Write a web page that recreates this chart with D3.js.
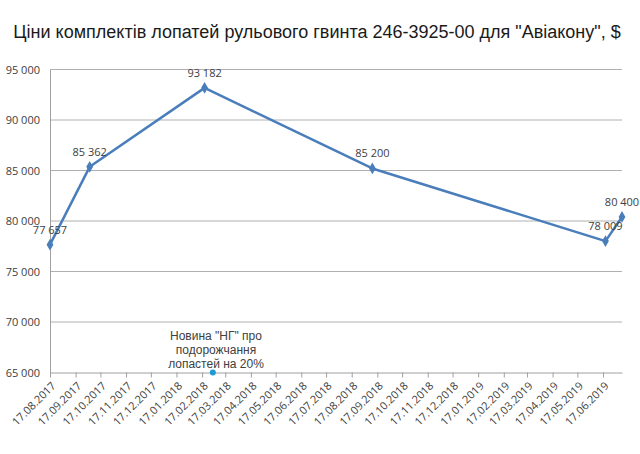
<!DOCTYPE html>
<html><head><meta charset="utf-8">
<script src="https://cdn.jsdelivr.net/npm/d3@7"></script>
<style>body{margin:0;background:#fff}svg{display:block}</style>
</head><body>
<svg id="c" width="640" height="454"></svg>
<script>
const titleText = 'Ціни комплектів лопатей рульового гвинта 246-3925-00 для "Авіакону", $';
const dates = ["2017-08-17","2017-10-04","2018-02-20","2018-09-11","2019-06-20","2019-07-10"];
const prices = [77657, 85362, 93182, 85200, 78009, 80400];
const yTicks = [65000, 70000, 75000, 80000, 85000, 90000, 95000];
const xTickLabels = ["17.08.2017","17.09.2017","17.10.2017","17.11.2017","17.12.2017","17.01.2018","17.02.2018","17.03.2018","17.04.2018","17.05.2018","17.06.2018","17.07.2018","17.08.2018","17.09.2018","17.10.2018","17.11.2018","17.12.2018","17.01.2019","17.02.2019","17.03.2019","17.04.2019","17.05.2019","17.06.2019"];
const noteDate = "2018-03-02";
const noteValue = 65000;
const noteLines = ['Новина "НГ" про', 'подорожчання', 'лопастей на 20%'];

const parseISO = d3.timeParse("%Y-%m-%d");
const parseDMY = d3.timeParse("%d.%m.%Y");
const loc = d3.formatLocale({decimal: ",", thousands: " ", grouping: [3], currency: ["", "$"]});
const fmt = loc.format(",d");

const svg = d3.select("#c");
const L = 50, R = 622, T = 69.5, B = 372.5;
const x = d3.scaleTime().domain([parseISO("2017-08-17"), parseISO("2019-07-10")]).range([L, R]);
const y = d3.scaleLinear().domain([65000, 95000]).range([B, T]);

svg.append("text").attr("x", 317).attr("y", 38).attr("text-anchor", "middle")
  .attr("font-family", "Liberation Sans, Arial, sans-serif").attr("font-size", 18).attr("fill", "#1a1a1a")
  .text(titleText);

// gridlines
svg.append("g").selectAll("line").data(yTicks.filter(v => v !== 65000)).join("line")
  .attr("x1", L).attr("x2", R).attr("y1", d => y(d)).attr("y2", d => y(d))
  .attr("stroke", "#b0b0b0").attr("stroke-width", 1);

// y axis
const yAxis = svg.append("g").attr("transform", `translate(${L},0)`)
  .call(d3.axisLeft(y).tickValues(yTicks).tickFormat(fmt).tickSize(0).tickPadding(10));
yAxis.select(".domain").attr("stroke", "#a0a0a0");
yAxis.selectAll("text").attr("font-family", "Open Sans, sans-serif").attr("font-size", 11).attr("fill", "#404040");

// x axis
const xTicks = xTickLabels.map(parseDMY);
const xAxis = svg.append("g").attr("transform", `translate(0,${B})`)
  .call(d3.axisBottom(x).tickValues(xTicks).tickFormat(d3.timeFormat("%d.%m.%Y")).tickSizeInner(5).tickSizeOuter(0));
xAxis.select(".domain").attr("stroke", "#a0a0a0");
xAxis.selectAll(".tick line").attr("stroke", "#a0a0a0");
xAxis.selectAll("text").attr("font-family", "Open Sans, sans-serif").attr("font-size", 11).attr("fill", "#404040")
  .attr("text-anchor", "end").attr("dy", 0).attr("y", 0)
  .attr("transform", "translate(6,14) rotate(-45)");

// line
const pts = dates.map((d, i) => ({d: parseISO(d), v: prices[i]}));
svg.append("path").datum(pts)
  .attr("d", d3.line().x(p => x(p.d)).y(p => y(p.v)))
  .attr("fill", "none").attr("stroke", "#4a7ebb").attr("stroke-width", 2.5).attr("stroke-linejoin", "round");

svg.append("g").selectAll("path").data(pts).join("path")
  .attr("transform", p => `translate(${x(p.d)},${y(p.v)})`)
  .attr("d", d3.symbol().type(d3.symbolDiamond).size(40))
  .attr("fill", "#4a7ebb");

svg.append("g").selectAll("text").data(pts).join("text")
  .attr("x", p => x(p.d)).attr("y", p => y(p.v) - 11)
  .attr("text-anchor", "middle")
  .attr("font-family", "Open Sans, sans-serif").attr("font-size", 11).attr("fill", "#404040")
  .text(p => fmt(p.v));

// annotation
const nd = parseISO(noteDate);
svg.append("circle").attr("cx", x(nd)).attr("cy", y(noteValue)).attr("r", 3).attr("fill", "#1e9ad6");
svg.append("g").selectAll("text").data(noteLines).join("text")
  .attr("x", 216).attr("y", (d, i) => 340 + i * 14)
  .attr("text-anchor", "middle")
  .attr("font-family", "Liberation Sans, Arial, sans-serif").attr("font-size", 12).attr("fill", "#404040")
  .text(d => d);
</script>
</body></html>
